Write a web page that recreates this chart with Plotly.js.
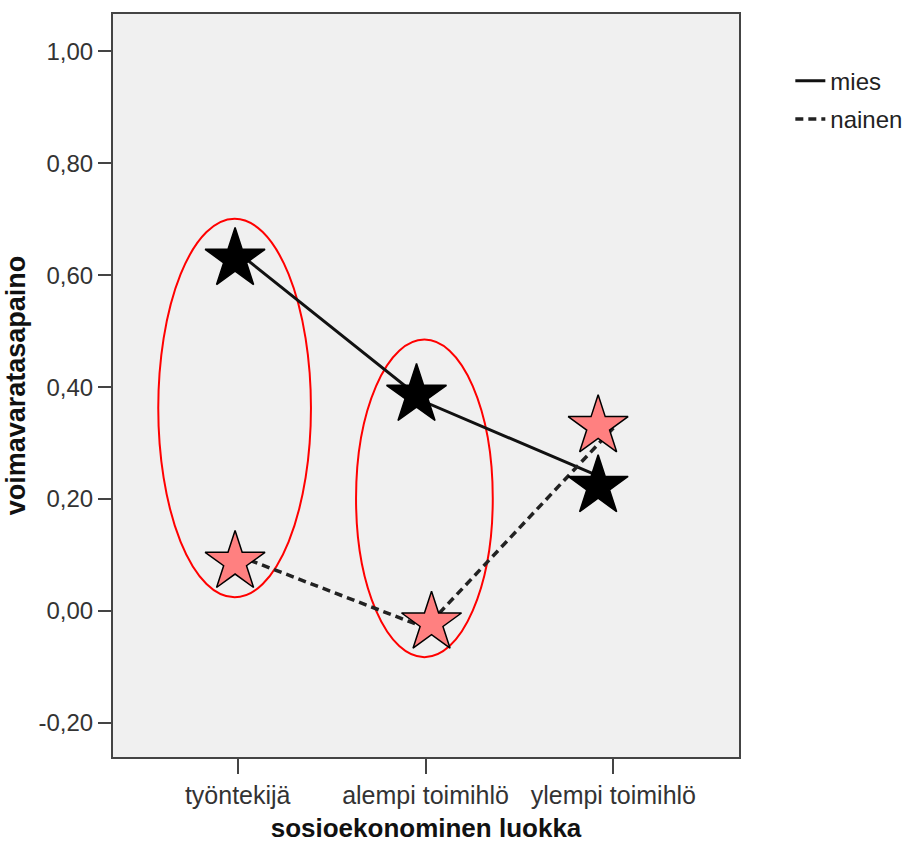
<!DOCTYPE html>
<html>
<head>
<meta charset="utf-8">
<script src="https://cdn.plot.ly/plotly-3.0.1.min.js"></script>
<style>html,body{margin:0;padding:0;background:#fff;}#chart{width:920px;height:843px;}</style>
</head>
<body>
<div id="chart"></div>
<script>
// categories (x positions 0,1,2)
const categories = ['työntekijä', 'alempi toimihlö', 'ylempi toimihlö'];
const categoryPos = [0, 1, 2];
// line values (means) per group
const miesLine = [0.641, 0.373, 0.230];
const nainenLine = [0.099, -0.030, 0.327];
// star markers as placed on the picture
const miesStarX = [-0.014, 0.952, 1.919];
const miesStarY = [0.629, 0.386, 0.223];
const nainenStarX = [-0.014, 1.032, 1.919];
const nainenStarY = [0.0875, -0.021, 0.330];
// y tick labels
const yTickVals = [-0.2, 0, 0.2, 0.4, 0.6, 0.8, 1.0];
const yTickText = ['-0,20', '0,00', '0,20', '0,40', '0,60', '0,80', '1,00'];
// highlight ellipses [x0, x1, y0, y1]
const ellipse1 = [-0.423, 0.390, 0.0245, 0.701];
const ellipse2 = [0.630, 1.358, -0.0827, 0.485];

const font = 'Liberation Sans, Arial, sans-serif';

const traces = [
  {x: categoryPos, y: miesLine, name: 'mies', mode: 'lines', type: 'scatter',
   line: {color: '#111', width: 3}, legendgroup: 'a', hoverinfo: 'skip'},
  {x: categoryPos, y: nainenLine, name: 'nainen', mode: 'lines', type: 'scatter',
   line: {color: '#222', width: 3.5, dash: '8px,5px'}, legendgroup: 'b', hoverinfo: 'skip'},
  {x: miesStarX, y: miesStarY, mode: 'markers', type: 'scatter', showlegend: false,
   marker: {symbol: 'star', size: 45, color: '#000', line: {color: '#000', width: 1.5}}},
  {x: nainenStarX, y: nainenStarY, mode: 'markers', type: 'scatter', showlegend: false,
   marker: {symbol: 'star', size: 45, color: '#ff8080', line: {color: '#000', width: 1.5}}}
];

function ell(b) {
  return {type: 'circle', xref: 'x', yref: 'y', x0: b[0], x1: b[1], y0: b[2], y1: b[3],
          line: {color: '#ff0000', width: 2}, layer: 'below'};
}

const layout = {
  width: 920, height: 843,
  margin: {l: 113, r: 181, t: 14, b: 86},
  paper_bgcolor: '#ffffff',
  plot_bgcolor: '#f0f0f0',
  font: {family: font, color: '#333', size: 24},
  showlegend: true,
  legend: {x: 1.082, y: 0.94, xanchor: 'left', yanchor: 'top', xref: 'paper', yref: 'paper',
           font: {family: font, size: 24, color: '#222'}, bgcolor: 'rgba(0,0,0,0)',
           traceorder: 'grouped', tracegroupgap: 4},
  xaxis: {
    range: [-0.664, 2.669], tickvals: categoryPos, ticktext: categories,
    showgrid: false, zeroline: false, showline: true, mirror: true,
    linecolor: '#444', linewidth: 2, ticks: 'outside', ticklen: 15, tickwidth: 2, tickcolor: '#444',
    tickfont: {family: font, size: 25, color: '#333'},
    title: {text: 'sosioekonominen luokka', font: {family: font, size: 26, color: '#111', weight: 'bold'}, standoff: 15}
  },
  yaxis: {
    range: [-0.261, 1.067], tickvals: yTickVals, ticktext: yTickText,
    showgrid: false, zeroline: false, showline: true, mirror: true,
    linecolor: '#444', linewidth: 2, ticks: 'outside', ticklen: 13, tickwidth: 2, tickcolor: '#444',
    tickfont: {family: font, size: 24, color: '#333'},
    title: {text: 'voimavaratasapaino', font: {family: font, size: 27, color: '#111', weight: 'bold'}, standoff: 5}
  },
  shapes: [ell(ellipse1), ell(ellipse2)]
};

Plotly.newPlot('chart', traces, layout, {staticPlot: true, displayModeBar: false});
</script>
</body>
</html>
